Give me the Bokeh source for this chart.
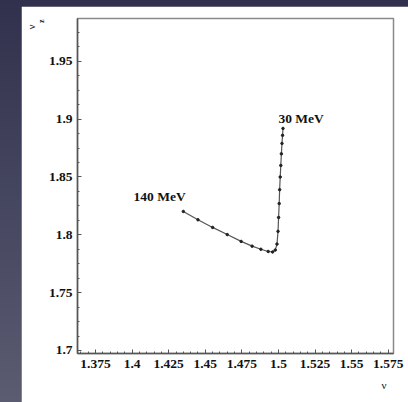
from bokeh.plotting import figure
from bokeh.models import Range1d, Label, Title, FixedTicker, GlobalInlineStyleSheet
from bokeh.embed import file_html
from bokeh.resources import INLINE

# curve: nu_r (x) vs nu_z (y), 140 MeV -> 30 MeV
nu_r = [1.4350, 1.4450, 1.4550, 1.4650, 1.4745, 1.4820, 1.4880, 1.4930, 1.4960,
        1.4978, 1.4990, 1.4997, 1.5001, 1.5005, 1.5008, 1.5012, 1.5016, 1.5020,
        1.5024, 1.5028, 1.5031]
nu_z = [1.8202, 1.8130, 1.8064, 1.8002, 1.7943, 1.7902, 1.7875, 1.7856, 1.7852,
        1.7868, 1.7920, 1.8030, 1.8150, 1.8270, 1.8390, 1.8500, 1.8600, 1.8700,
        1.8790, 1.8860, 1.8920]

x_ticks = [1.375, 1.4, 1.425, 1.45, 1.475, 1.5, 1.525, 1.55, 1.575]
y_ticks = [1.7, 1.75, 1.8, 1.85, 1.9, 1.95]

ann_text = ["140 MeV", "30 MeV"]
ann_x = [1.401, 1.500]
ann_y = [1.833, 1.9007]

FONT = "Liberation Serif"

p = figure(frame_width=316, frame_height=335, output_backend="svg",
           toolbar_location=None,
           x_range=Range1d(1.3627, 1.5786), y_range=Range1d(1.6974, 1.987),
           min_border_left=56, min_border_right=15, min_border_top=12,
           min_border_bottom=49)
p.margin = (6, 0, 0, 21)
p.stylesheets = [GlobalInlineStyleSheet(css=(
    "html, body { margin: 0; padding: 0; overflow: hidden; "
    "background: linear-gradient(180deg, #32314d 0%, #45465f 50%, #5b5b71 100%); "
    "min-height: 402px; }"))]
p.background_fill_color = "white"
p.border_fill_color = "white"
p.outline_line_color = "#8a8a8a"
p.outline_line_width = 1.5
p.grid.visible = False

for ax in (p.xaxis[0], p.yaxis[0]):
    ax.major_label_text_font = FONT
    ax.major_label_text_font_style = "bold"
    ax.major_label_text_font_size = "13.5px"
    ax.major_label_text_color = "#111111"
    ax.axis_line_color = "#555555"
    ax.axis_line_width = 1.5
    ax.major_tick_line_color = "#555555"
    ax.minor_tick_line_color = "#555555"
    ax.major_tick_in = 4
    ax.major_tick_out = 0
    ax.minor_tick_in = 2
    ax.minor_tick_out = 0

p.xaxis.ticker = FixedTicker(ticks=x_ticks,
                             minor_ticks=[1.365 + 0.005 * i for i in range(43)])
p.yaxis.ticker = FixedTicker(ticks=y_ticks,
                             minor_ticks=[1.7 + 0.0125 * i for i in range(24)])
p.xaxis.major_label_overrides = {t: f"{t:g}" for t in x_ticks}
p.yaxis.major_label_overrides = {t: f"{t:g}" for t in y_ticks}
p.xaxis.major_label_standoff = 6
p.yaxis.major_label_standoff = 5

p.line(nu_r, nu_z, line_color="#555555", line_width=1.2)
p.scatter(nu_r, nu_z, size=2.5, color="#222222")

for t, x, y in zip(ann_text, ann_x, ann_y):
    p.add_layout(Label(x=x, y=y, text=t, text_font=FONT, text_font_style="bold",
                       text_font_size="13.5px", text_color="#111111",
                       text_baseline="middle", text_align="left"))

# axis titles as side-panel titles (not clipped to the frame)
p.add_layout(Title(text="ν", align="right", offset=7, standoff=13,
                   text_font=FONT, text_font_size="11px", text_font_style="normal",
                   text_color="#222222"), "below")
p.add_layout(Title(text="r", align="right", offset=2, standoff=0,
                   text_font=FONT, text_font_size="8px", text_font_style="bold",
                   text_color="#222222"), "below")
p.add_layout(Title(text="z", align="right", offset=1, standoff=0,
                   text_font=FONT, text_font_size="8px", text_font_style="bold",
                   text_color="#222222"), "left")
p.add_layout(Title(text="ν", align="right", offset=6, standoff=-4,
                   text_font=FONT, text_font_size="11px", text_font_style="normal",
                   text_color="#222222"), "left")

open("out.html", "w").write(file_html(p, INLINE))
